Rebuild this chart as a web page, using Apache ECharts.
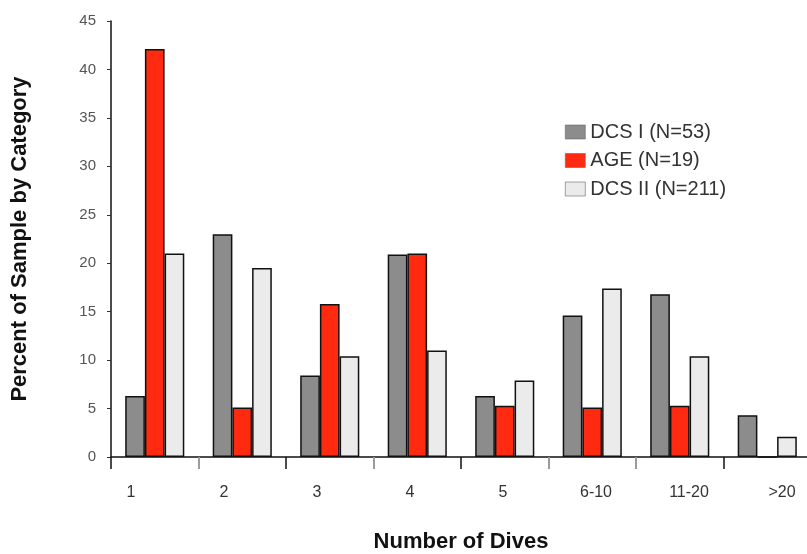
<!DOCTYPE html>
<html>
<head>
<meta charset="utf-8">
<script src="https://cdn.jsdelivr.net/npm/echarts@6/dist/echarts.min.js"></script>
<style>html,body{margin:0;padding:0;background:#fff}#c{width:807px;height:554px}</style>
</head>
<body>
<div id="c"></div>
<script>
const categories = ['1', '2', '3', '4', '5', '6-10', '11-20', '>20'];
const seriesNames = ['DCS I (N=53)', 'AGE (N=19)', 'DCS II (N=211)'];
const dcsI = [6.3, 23.0, 8.4, 20.9, 6.3, 14.6, 16.8, 4.3];
const age = [42.1, 5.1, 15.8, 21.0, 5.3, 5.1, 5.3, 0];
const dcsII = [21.0, 19.5, 10.4, 11.0, 7.9, 17.4, 10.4, 2.1];
const yTicks = [0, 5, 10, 15, 20, 25, 30, 35, 40, 45];
const xTitle = 'Number of Dives';
const yTitle = 'Percent of Sample by Category';

const grayTickIdx = [1, 3, 5, 6];
const font = 'Liberation Sans, Arial, Helvetica, sans-serif';
const chart = echarts.init(document.getElementById('c'), null, {renderer: 'canvas'});

function barSeries(name, data, color) {
  return {
    name: name, type: 'bar', data: data, xAxisIndex: 0, yAxisIndex: 0,
    barWidth: 19.7, barGap: '0%',
    itemStyle: {color: color, borderColor: '#111', borderWidth: 1.5},
    emphasis: {disabled: true}
  };
}

chart.setOption({
  animation: false,
  backgroundColor: '#fff',
  textStyle: {fontFamily: font},
  grid: [
    {left: 111, top: 21, right: -4, bottom: 97, containLabel: false, outerBoundsMode: 'none'},
    {left: 84.5, right: -21.5, top: 21, bottom: 97, containLabel: false, outerBoundsMode: 'none'}
  ],
  legend: {
    orient: 'vertical', left: 560, top: 117, icon: 'rect',
    itemWidth: 20, itemHeight: 14, itemGap: 8.5,
    itemStyle: {borderWidth: 0.6, borderColor: '#666'},
    textStyle: {fontSize: 20, color: '#333', fontFamily: font},
    data: seriesNames
  },
  xAxis: [
    {
      type: 'category', gridIndex: 0, data: categories, position: 'bottom',
      name: xTitle, nameLocation: 'middle', nameGap: 74,
      nameTextStyle: {fontSize: 22, fontWeight: 'bold', color: '#111', fontFamily: font},
      axisLine: {lineStyle: {color: '#111', width: 1.5}},
      axisTick: {show: true, interval: 0, length: 12, lineStyle: {color: '#111', width: 1.5}},
      axisLabel: {show: false},
      splitLine: {show: false}
    },
    {
      type: 'category', gridIndex: 1, data: categories, position: 'bottom',
      axisLine: {show: false}, axisTick: {show: false},
      axisLabel: {margin: 28, fontSize: 16, color: '#333', fontFamily: font}
    },
    {
      type: 'category', gridIndex: 0, data: categories, position: 'bottom',
      axisLine: {show: false}, axisLabel: {show: false},
      axisTick: {show: true, length: 12, lineStyle: {color: '#b0b0b0', width: 1.6},
        interval: function (i) { return grayTickIdx.indexOf(i) >= 0; }}
    }
  ],
  yAxis: [
    {
      type: 'value', gridIndex: 0, min: yTicks[0], max: yTicks[yTicks.length - 1], interval: 5,
      name: yTitle, nameLocation: 'middle', nameGap: 80,
      nameTextStyle: {fontSize: 22, fontWeight: 'bold', color: '#111', fontFamily: font},
      axisLine: {show: true, lineStyle: {color: '#111', width: 1.5}},
      axisTick: {show: true, length: 4, lineStyle: {color: '#333', width: 1}},
      axisLabel: {margin: 15, fontSize: 15, color: '#555', fontFamily: font},
      splitLine: {show: false}
    },
    {
      type: 'value', gridIndex: 1, min: 0, max: 1, show: false
    }
  ],
  series: [
    barSeries(seriesNames[0], dcsI, '#8c8c8c'),
    barSeries(seriesNames[1], age, '#ff2a10'),
    barSeries(seriesNames[2], dcsII, '#ebebeb')
  ]
});
</script>
</body>
</html>
